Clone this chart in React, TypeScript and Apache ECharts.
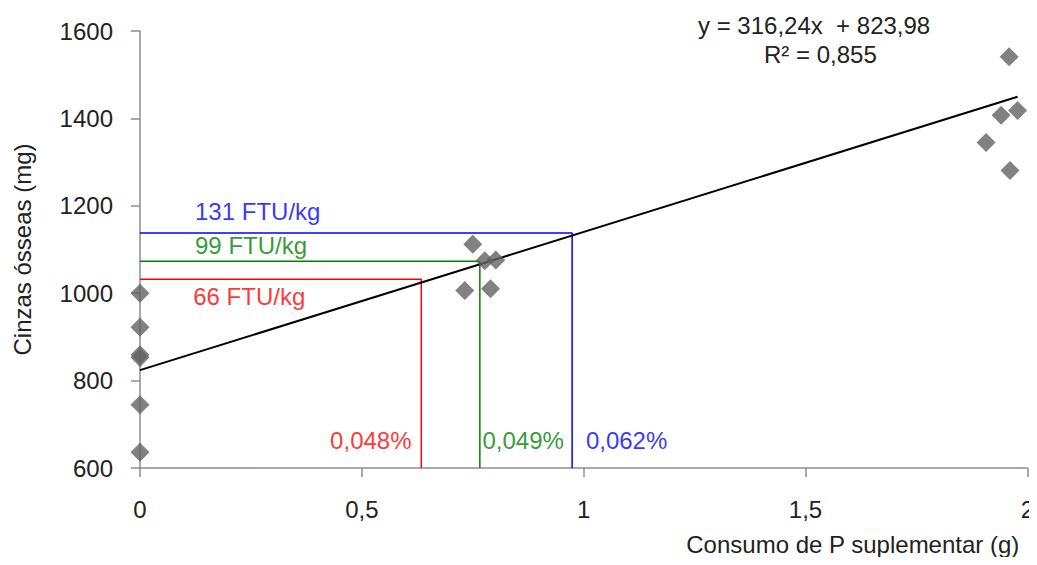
import React, { useEffect, useRef } from "react";
import * as echarts from "echarts";

// Observed data: x = Consumo de P suplementar (g), y = Cinzas ósseas (mg)
const pointsX = [0, 0, 0, 0, 0, 0, 0.75, 0.777, 0.802, 0.732, 0.79, 1.959, 1.941, 1.978, 1.907, 1.961];
const pointsY = [1000, 922, 853, 859, 745, 636, 1112, 1074, 1076, 1006, 1010, 1541, 1407, 1418, 1345, 1281];

// Regression y = 316.24x + 823.98
const slope = 316.24;
const intercept = 823.98;
const trendRange = [0, 1.978];

// Reference lines (x at which each FTU level crosses, y level)
const refNames = ["131 FTU/kg", "99 FTU/kg", "66 FTU/kg"];
const refColors = ["#0000FF", "#008000", "#FF0000"];
const refX = [0.974, 0.766, 0.634];
const refY = [1138, 1073, 1032];

// Annotation texts anchored in data coordinates
const ftuLabelX = [0.124, 0.124, 0.12];
const ftuLabelY = [1186, 1109, 992];
const pctLabels = ["0,062%", "0,049%", "0,048%"];
const pctLabelX = [1.005, 0.772, 0.612];
const pctLabelY = [664, 664, 664];
const pctAlign = ["left", "left", "right"];

const xTicks = { min: 0, max: 2, interval: 0.5 };
const yTicks = { min: 600, max: 1600, interval: 200 };

const FONT = "Liberation Sans, Arial, sans-serif";
const FS = 24;

export default function App() {
  const ref = useRef<HTMLDivElement>(null);
  useEffect(() => {
    if (!ref.current) return;
    const chart = echarts.init(ref.current, undefined, { renderer: "svg" });
    const scatterData = pointsX.map((x, i) => [x, pointsY[i]]);
    const trendData = trendRange.map((x) => [x, slope * x + intercept]);

    const refSeries: any[] = refNames.map((n, i) => ({
      type: "line",
      name: n,
      data: [
        [0, refY[i]],
        [refX[i], refY[i]],
        [refX[i], yTicks.min],
      ],
      symbol: "none",
      lineStyle: { color: refColors[i], width: 1.5 },
      z: 2,
    }));

    const ftuSeries: any[] = refNames.map((n, i) => ({
      type: "scatter",
      data: [[ftuLabelX[i], ftuLabelY[i]]],
      symbolSize: 0,
      silent: true,
      label: {
        show: true,
        position: "right",
        distance: 0,
        formatter: n,
        color: refColors[i],
        fontFamily: FONT,
        fontSize: FS,
      },
    }));

    const pctSeries: any[] = pctLabels.map((t, i) => ({
      type: "scatter",
      data: [[pctLabelX[i], pctLabelY[i]]],
      symbolSize: 0,
      silent: true,
      label: {
        show: true,
        position: pctAlign[i] === "left" ? "right" : "left",
        distance: 0,
        formatter: t,
        color: refColors[i],
        fontFamily: FONT,
        fontSize: FS,
      },
    }));

    chart.setOption({
      animation: false,
      backgroundColor: "#ffffff",
      grid: { left: 140, right: 9, top: 31, bottom: 97, containLabel: false },
      xAxis: {
        type: "value",
        min: xTicks.min,
        max: xTicks.max,
        interval: xTicks.interval,
        name: "Consumo de P suplementar (g)",
        nameLocation: "end",
        nameGap: -8,
        nameTextStyle: {
          align: "right",
          verticalAlign: "top",
          padding: [64, 0, 0, 0],
          color: "#222",
          fontFamily: FONT,
          fontSize: FS,
        },
        axisLine: { lineStyle: { color: "#8c8c8c", width: 1.5 } },
        axisTick: { show: true, length: 9, lineStyle: { color: "#8c8c8c", width: 1.5 } },
        axisLabel: {
          margin: 29,
          color: "#222",
          fontFamily: FONT,
          fontSize: FS,
          formatter: (v: number) => String(v).replace(".", ","),
        },
        splitLine: { show: false },
      },
      yAxis: {
        type: "value",
        min: yTicks.min,
        max: yTicks.max,
        interval: yTicks.interval,
        name: "Cinzas ósseas (mg)",
        nameLocation: "middle",
        nameGap: 106,
        nameTextStyle: { color: "#222", fontFamily: FONT, fontSize: FS },
        axisLine: { show: true, lineStyle: { color: "#8c8c8c", width: 1.5 } },
        axisTick: { show: true, length: 9, lineStyle: { color: "#8c8c8c", width: 1.5 } },
        axisLabel: {
          margin: 27,
          color: "#222",
          fontFamily: FONT,
          fontSize: FS,
          formatter: (v: number) => String(v),
        },
        splitLine: { show: false },
      },
      graphic: [
        {
          type: "text",
          left: 698,
          top: 13,
          style: {
            text: "y = 316,24x  + 823,98",
            fill: "#222",
            font: `${FS}px ${FONT}`,
          },
        },
        {
          type: "text",
          left: 764,
          top: 42,
          style: {
            text: "R² = 0,855",
            fill: "#222",
            font: `${FS}px ${FONT}`,
          },
        },
      ],
      series: [
        ...refSeries,
        {
          type: "line",
          name: "trend",
          data: trendData,
          symbol: "none",
          lineStyle: { color: "#000000", width: 2 },
          z: 3,
        },
        {
          type: "scatter",
          name: "pontos",
          data: scatterData,
          symbol: "diamond",
          symbolSize: 19,
          itemStyle: { color: "#626262" },
          z: 4,
        },
        ...ftuSeries,
        ...pctSeries,
      ],
    });
    return () => chart.dispose();
  }, []);
  return <div ref={ref} style={{ width: 1037, height: 565, margin: -8 }} />;
}
